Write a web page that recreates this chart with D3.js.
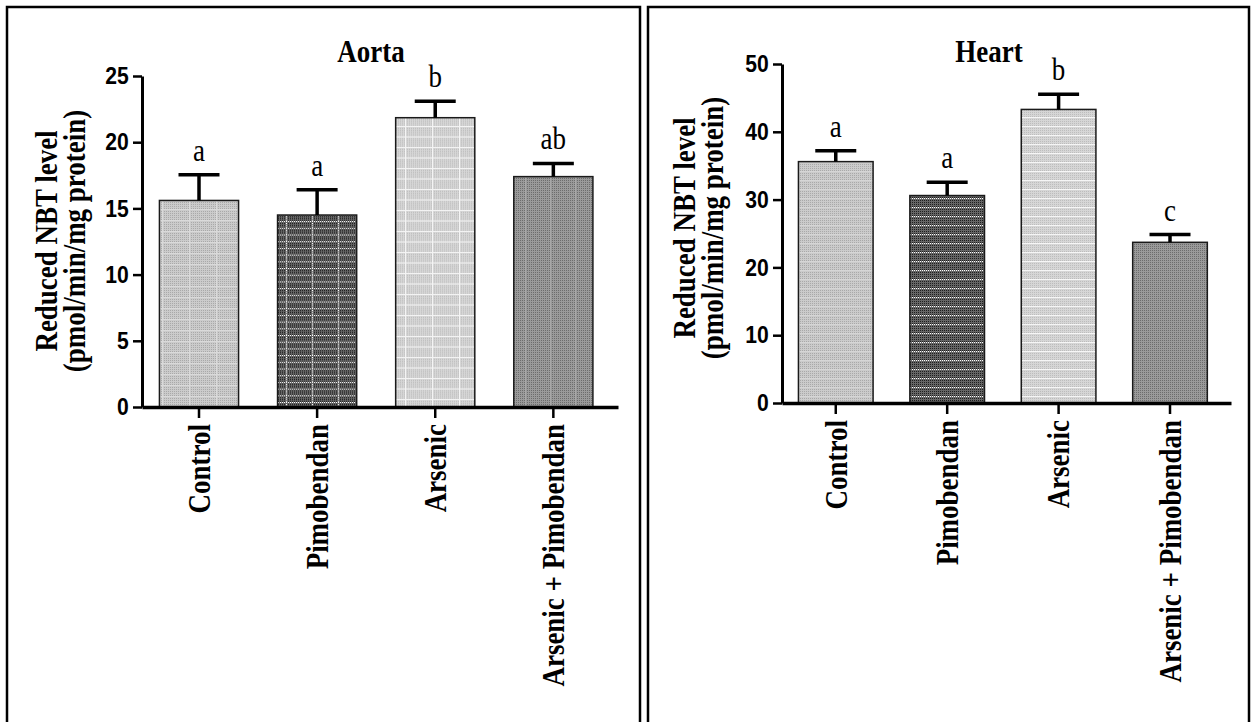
<!DOCTYPE html>
<html>
<head>
    <meta charset="utf-8">
    <title>Reduced NBT level - Aorta and Heart</title>
    <script src="https://d3js.org/d3.v7.min.js"></script>
    <style>
        body {
            margin: 0;
            background: #fff;
        }

        .axis .domain {
            stroke: #000;
        }

        .axis line {
            stroke: #000;
            stroke-width: 2.5px;
        }

        .ytick text {
            font-family: "Liberation Sans", Arial, sans-serif;
            font-weight: bold;
            font-size: 24px;
            fill: #000;
        }

        .serif {
            font-family: "Liberation Serif", "Times New Roman", serif;
            fill: #000;
        }
    </style>
</head>
<body>
    <svg id="chart" width="1255" height="722"></svg>
    <script>
        // data
        var categories = ["Control", "Pimobendan", "Arsenic", "Arsenic + Pimobendan"];

        var aortaMean = [15.6, 14.5, 21.85, 17.4];
        var aortaSem = [1.95, 1.9, 1.25, 1.0];
        var aortaLetters = ["a", "a", "b", "ab"];
        var aortaTicks = [0, 5, 10, 15, 20, 25];

        var heartMean = [35.6, 30.6, 43.3, 23.7];
        var heartSem = [1.6, 1.95, 2.25, 1.15];
        var heartLetters = ["a", "a", "b", "c"];
        var heartTicks = [0, 10, 20, 30, 40, 50];

        // the figure's type is a bit condensed
        var squeeze = "scale(0.87,1)";

        var svg = d3.select("#chart");
        var defs = svg.append("defs");

        // fine dot texture used as base of each bar fill
        function dotPattern(id, bg, dot) {
            var p = defs.append("pattern")
                .attr("id", id)
                .attr("patternUnits", "userSpaceOnUse")
                .attr("width", 2).attr("height", 2);
            p.append("rect").attr("width", 2).attr("height", 2).attr("fill", bg);
            p.append("rect").attr("width", 1).attr("height", 1).attr("fill", dot);
        }
        dotPattern("dLight", "#cbcbcb", "#a9a9a9");
        dotPattern("dLight2", "#d6d6d6", "#bdbdbd");
        dotPattern("dDark", "#666", "#1e1e1e");
        dotPattern("dMid", "#9a9a9a", "#6c6c6c");

        // grid pattern: base dots + lines
        function gridPattern(id, base, w, h, color, dash, vert, horiz) {
            var p = defs.append("pattern")
                .attr("id", id)
                .attr("patternUnits", "userSpaceOnUse")
                .attr("width", w).attr("height", h);
            p.append("rect").attr("width", w).attr("height", h).attr("fill", "url(#" + base + ")");
            if (horiz) {
                p.append("line").attr("x1", 0).attr("x2", w).attr("y1", 0.5).attr("y2", 0.5)
                    .attr("stroke", color).attr("stroke-width", 1).attr("stroke-dasharray", dash);
            }
            if (vert) {
                p.append("line").attr("x1", 0.5).attr("x2", 0.5).attr("y1", 0).attr("y2", h)
                    .attr("stroke", color).attr("stroke-width", 1).attr("stroke-dasharray", dash);
            }
        }
        // aorta fills
        gridPattern("aCtrl", "dLight", 27, 11, "#dadada", null, true, true);
        gridPattern("aPimo", "dDark", 26, 6.7, "#fff", "1,1", true, true);
        gridPattern("aArs", "dLight2", 27, 10.5, "#f4f4f4", null, true, true);
        gridPattern("aBoth", "dMid", 25, 200, "#a8a8a8", null, true, false);
        // heart fills
        gridPattern("hCtrl", "dLight", 200, 9, "#d6d6d6", null, false, true);
        gridPattern("hPimo", "dDark", 200, 9, "#fff", "1,1", false, true);
        gridPattern("hArs", "dLight2", 200, 9, "#f6f6f6", null, false, true);
        gridPattern("hBoth", "dMid", 200, 200, "#9a9a9a", null, false, false);

        // panel frames
        svg.append("rect").attr("x", 7).attr("y", 7).attr("width", 633).attr("height", 740)
            .attr("fill", "none").attr("stroke", "#000").attr("stroke-width", 2.5);
        svg.append("rect").attr("x", 648).attr("y", 7).attr("width", 601).attr("height", 740)
            .attr("fill", "none").attr("stroke", "#000").attr("stroke-width", 2.5);

        function drawPanel(cfg) {
            var g = svg.append("g");

            var y = d3.scaleLinear()
                .domain([0, cfg.ticks[cfg.ticks.length - 1]])
                .range([cfg.yBottom, cfg.yTop]);

            var x = d3.scaleBand()
                .domain(categories)
                .range([cfg.xLeft, cfg.xRight])
                .paddingInner(0.33)
                .paddingOuter(0.18)
                .align(0.41);

            var rows = categories.map(function(c, i) {
                return { name: c, mean: cfg.mean[i], sem: cfg.sem[i], letter: cfg.letters[i], fill: cfg.fills[i] };
            });

            // bars
            g.selectAll(".bar")
                .data(rows).enter()
                .append("rect")
                .attr("class", "bar")
                .attr("x", function(d) { return x(d.name); })
                .attr("width", x.bandwidth())
                .attr("y", function(d) { return y(d.mean); })
                .attr("height", function(d) { return y(0) - y(d.mean); })
                .attr("fill", function(d) { return "url(#" + d.fill + ")"; })
                .attr("stroke", "#1a1a1a")
                .attr("stroke-width", 1.5);

            // error bars (upper half only)
            var cx = function(d) { return x(d.name) + x.bandwidth() / 2; };
            g.selectAll(".err")
                .data(rows).enter()
                .append("line")
                .attr("x1", cx).attr("x2", cx)
                .attr("y1", function(d) { return y(d.mean); })
                .attr("y2", function(d) { return y(d.mean + d.sem); })
                .attr("stroke", "#000").attr("stroke-width", 3.5);
            g.selectAll(".cap")
                .data(rows).enter()
                .append("line")
                .attr("x1", function(d) { return cx(d) - 20.5; })
                .attr("x2", function(d) { return cx(d) + 20.5; })
                .attr("y1", function(d) { return y(d.mean + d.sem); })
                .attr("y2", function(d) { return y(d.mean + d.sem); })
                .attr("stroke", "#000").attr("stroke-width", 3.5);

            // significance letters
            g.selectAll(".letter")
                .data(rows).enter()
                .append("text")
                .attr("class", "serif")
                .attr("transform", function(d) {
                    return "translate(" + cx(d) + "," + (y(d.mean + d.sem) - 14) + ") " + squeeze;
                })
                .attr("text-anchor", "middle")
                .style("font-size", "31px")
                .text(function(d) { return d.letter; });

            // y axis
            var yAxis = g.append("g")
                .attr("class", "axis ytick")
                .attr("transform", "translate(" + cfg.xLeft + ",0)")
                .call(d3.axisLeft(y).tickValues(cfg.ticks).tickSize(9).tickSizeOuter(0).tickPadding(6));
            yAxis.select(".domain").attr("stroke-width", 3);
            yAxis.selectAll(".tick text").attr("transform", "scale(0.88,1)");

            // x axis
            var xAxis = g.append("g")
                .attr("class", "axis")
                .attr("transform", "translate(0," + y(0) + ")")
                .call(d3.axisBottom(x).tickSize(11).tickSizeOuter(0).tickFormat(""));
            xAxis.select(".domain").attr("stroke-width", 3.5);

            // category labels, rotated
            g.selectAll(".cat")
                .data(rows).enter()
                .append("text")
                .attr("class", "serif")
                .attr("transform", function(d) {
                    return "translate(" + cx(d) + "," + (y(0) + 17) + ") rotate(-90) " + squeeze;
                })
                .attr("text-anchor", "end")
                .attr("dy", "0.35em")
                .style("font-size", "31px")
                .style("font-weight", "bold")
                .text(function(d) { return d.name; });

            // title
            g.append("text")
                .attr("class", "serif")
                .attr("transform", "translate(" + cfg.titleX + ",62) " + squeeze)
                .attr("text-anchor", "middle")
                .style("font-size", "31px")
                .style("font-weight", "bold")
                .text(cfg.title);

            // y axis title, two lines
            var yt = g.append("text")
                .attr("class", "serif")
                .attr("transform", "translate(" + cfg.yTitleX + "," + cfg.yTitleY + ") rotate(-90) " + squeeze)
                .attr("text-anchor", "middle")
                .style("font-size", "31px")
                .style("font-weight", "bold");
            yt.append("tspan").attr("x", 0).attr("y", 0).text("Reduced NBT level");
            yt.append("tspan").attr("x", 0).attr("y", 28).text("(pmol/min/mg protein)");
        }

        drawPanel({
            title: "Aorta", titleX: 371,
            mean: aortaMean, sem: aortaSem, letters: aortaLetters, ticks: aortaTicks,
            fills: ["aCtrl", "aPimo", "aArs", "aBoth"],
            xLeft: 142, xRight: 618, yBottom: 407, yTop: 76,
            yTitleX: 57, yTitleY: 241
        });

        drawPanel({
            title: "Heart", titleX: 989,
            mean: heartMean, sem: heartSem, letters: heartLetters, ticks: heartTicks,
            fills: ["hCtrl", "hPimo", "hArs", "hBoth"],
            xLeft: 782, xRight: 1231, yBottom: 403, yTop: 64,
            yTitleX: 695, yTitleY: 228
        });
    </script>
</body>
</html>
